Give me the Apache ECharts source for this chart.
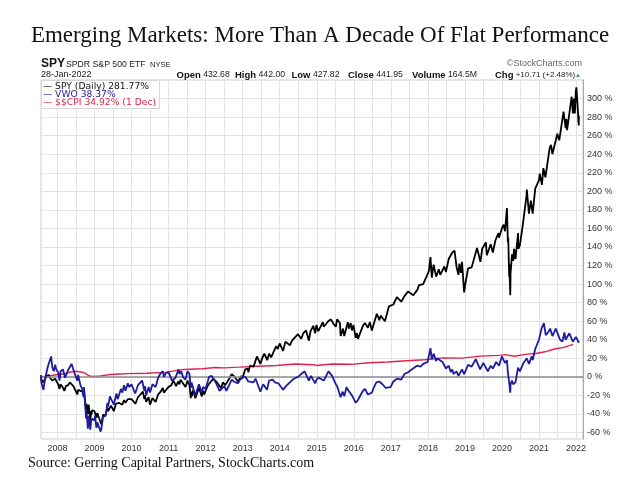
<!DOCTYPE html>
<html><head><meta charset="utf-8">
<script src="https://cdn.jsdelivr.net/npm/echarts@6.0.0/dist/echarts.min.js"></script>
<style>html,body{margin:0;padding:0;background:#fff}#c{width:640px;height:480px}</style>
</head><body><div id="c"></div>
<script>
// ---- data (percent change since start) ----
const xMin = '2007-07-23';
const xMax = '2022-03-10';
const yMinPct = -67, yMaxPct = 320;
const yTickMin = -60, yTickMax = 300, yTickStep = 20;
const yearFirst = 2008, yearLast = 2022;

const spy = [
['2007-07-23',0],['2007-07-26',-3],['2007-08-03',-2],['2007-08-16',-6],['2007-08-28',-3],['2007-09-19',1],['2007-10-09',2],['2007-10-19',-1],['2007-10-31',1],['2007-11-12',-4],['2007-11-26',-6],['2007-12-10',-2],['2007-12-20',-4],
['2008-01-08',-8],['2008-01-22',-13],['2008-02-01',-8],['2008-02-21',-11],['2008-03-10',-15],['2008-03-24',-10],['2008-04-15',-9],['2008-05-02',-6],['2008-05-19',-5],['2008-06-06',-10],['2008-06-20',-12],['2008-07-15',-19],['2008-07-23',-14],['2008-08-11',-13],['2008-09-05',-16],['2008-09-15',-20],['2008-09-19',-15],['2008-09-29',-25],['2008-10-10',-38],['2008-10-13',-29],['2008-10-27',-40],['2008-11-04',-30],['2008-11-20',-47],['2008-11-28',-37],['2008-12-01',-41],['2008-12-08',-36],['2008-12-31',-37],
['2009-01-06',-35],['2009-01-20',-44],['2009-01-28',-39],['2009-02-09',-40],['2009-02-23',-47],['2009-03-09',-51],['2009-03-26',-41],['2009-04-20',-41],['2009-05-08',-33],['2009-05-15',-37],['2009-06-12',-31],['2009-07-10',-37],['2009-07-31',-29],['2009-08-17',-31],['2009-08-28',-28],['2009-10-02',-30],['2009-10-19',-25],['2009-11-02',-28],['2009-11-25',-24],['2009-12-31',-24],
['2010-01-19',-22],['2010-02-08',-29],['2010-03-05',-22],['2010-04-23',-16],['2010-05-07',-24],['2010-05-13',-20],['2010-05-25',-27],['2010-06-18',-22],['2010-07-02',-30],['2010-07-26',-23],['2010-08-09',-21],['2010-08-26',-27],['2010-09-20',-19],['2010-10-15',-16],['2010-11-05',-12],['2010-11-16',-17],['2010-12-31',-11],
['2011-01-28',-9],['2011-02-18',-4],['2011-03-16',-10],['2011-04-05',-5],['2011-04-18',-8],['2011-04-29',-3],['2011-06-16',-11],['2011-07-07',-4],['2011-07-26',-9],['2011-08-08',-23],['2011-08-15',-16],['2011-08-19',-21],['2011-08-31',-14],['2011-09-22',-23],['2011-10-03',-25],['2011-10-27',-12],['2011-11-25',-21],['2011-12-07',-15],['2011-12-19',-19],['2011-12-31',-15],
['2012-01-25',-9],['2012-03-15',-2],['2012-04-02',-1],['2012-04-23',-6],['2012-06-01',-12],['2012-06-19',-6],['2012-07-12',-9],['2012-08-20',-2],['2012-09-14',3],['2012-10-05',1],['2012-11-15',-5],['2012-12-18',1],['2012-12-28',-2],
['2013-01-25',8],['2013-02-20',9],['2013-02-25',5],['2013-03-14',12],['2013-04-18',11],['2013-05-21',22],['2013-06-24',14],['2013-07-15',21],['2013-08-02',25],['2013-08-30',18],['2013-09-18',25],['2013-10-08',21],['2013-11-27',33],['2013-12-12',30],['2013-12-31',36],
['2014-01-15',36],['2014-02-03',28],['2014-02-26',38],['2014-03-07',40],['2014-04-11',34],['2014-05-02',39],['2014-06-30',46],['2014-07-31',41],['2014-08-21',47],['2014-09-18',50],['2014-10-15',39],['2014-10-31',49],['2014-11-28',55],['2014-12-16',47],['2014-12-29',56],
['2015-01-15',49],['2015-03-02',59],['2015-03-11',54],['2015-04-24',60],['2015-05-20',62],['2015-06-16',57],['2015-07-08',54],['2015-07-20',62],['2015-08-17',58],['2015-08-25',44],['2015-09-16',52],['2015-09-29',44],['2015-11-03',59],['2015-11-13',52],['2015-12-01',58],['2015-12-14',50],['2015-12-29',56],
['2016-01-20',42],['2016-02-01',47],['2016-02-11',41],['2016-03-31',55],['2016-04-20',58],['2016-05-19',53],['2016-06-08',59],['2016-06-27',50],['2016-08-15',68],['2016-09-09',61],['2016-09-22',66],['2016-11-03',60],['2016-12-13',76],
['2017-01-25',78],['2017-03-01',86],['2017-04-13',81],['2017-05-15',87],['2017-06-19',92],['2017-08-10',88],['2017-09-20',94],['2017-10-05',99],['2017-11-15',100],['2017-12-18',108],
['2018-01-10',114],['2018-01-26',129],['2018-02-08',107],['2018-02-26',121],['2018-03-09',121],['2018-03-23',108],['2018-04-02',106],['2018-04-18',116],['2018-05-03',110],['2018-06-12',119],['2018-06-27',113],['2018-07-25',127],['2018-08-29',134],['2018-09-20',136],['2018-10-11',118],['2018-10-29',110],['2018-11-07',122],['2018-11-23',112],['2018-12-03',124],['2018-12-24',91],
['2019-01-03',99],['2019-02-01',117],['2019-03-08',118],['2019-04-30',139],['2019-06-03',124],['2019-06-20',138],['2019-07-26',145],['2019-08-05',131],['2019-09-12',143],['2019-10-03',134],['2019-10-28',147],['2019-11-27',155],['2019-12-03',150],['2019-12-31',160],
['2020-01-17',164],['2020-01-31',157],['2020-02-19',182],['2020-02-28',145],['2020-03-03',150],['2020-03-12',108],['2020-03-13',122],['2020-03-23',88],['2020-03-26',112],['2020-04-09',132],['2020-04-21',125],['2020-04-29',138],['2020-05-13',127],['2020-06-08',155],['2020-06-11',138],['2020-06-26',142],['2020-07-22',162],['2020-08-31',196],['2020-09-02',202],['2020-09-23',176],['2020-10-12',190],['2020-10-30',176],['2020-11-24',203],['2020-12-31',212],
['2021-01-08',219],['2021-01-29',207],['2021-02-12',225],['2021-03-04',215],['2021-04-16',247],['2021-04-29',250],['2021-05-12',240],['2021-06-30',262],['2021-07-19',255],['2021-08-30',286],['2021-09-20',268],['2021-09-27',278],['2021-10-04',266],['2021-11-18',302],['2021-12-01',284],['2021-12-10',300],['2021-12-20',284],['2021-12-29',308],
['2022-01-04',312],['2022-01-21',283],['2022-01-24',274],['2022-01-25',278],['2022-01-27',271],['2022-01-28',281.77]
];

const vwo = [
['2007-07-23',2],['2007-07-26',-6],['2007-08-03',-4],['2007-08-16',-14],['2007-08-28',-5],['2007-09-10',2],['2007-09-24',9],['2007-10-01',12],['2007-10-18',10],['2007-10-31',22],['2007-11-12',10],['2007-11-26',6],['2007-12-10',13],['2007-12-20',8],
['2008-01-08',5],['2008-01-22',-4],['2008-02-01',6],['2008-02-25',8],['2008-03-17',-1],['2008-04-10',6],['2008-05-19',14],['2008-06-06',8],['2008-06-27',1],['2008-07-15',-4],['2008-07-23',2],['2008-08-15',-9],['2008-09-05',-14],['2008-09-15',-22],['2008-09-19',-11],['2008-09-29',-28],['2008-10-10',-45],['2008-10-13',-35],['2008-10-27',-56],['2008-11-04',-42],['2008-11-20',-57],['2008-11-28',-48],['2008-12-10',-45],['2008-12-31',-47],
['2009-01-06',-42],['2009-01-20',-55],['2009-01-28',-49],['2009-02-09',-50],['2009-03-02',-59],['2009-03-09',-56],['2009-03-26',-43],['2009-04-20',-42],['2009-05-08',-28],['2009-05-15',-32],['2009-06-01',-21],['2009-06-12',-22],['2009-07-10',-30],['2009-08-05',-18],['2009-08-17',-24],['2009-09-18',-13],['2009-10-02',-17],['2009-10-19',-9],['2009-11-02',-15],['2009-11-25',-7],['2009-12-10',-11],['2009-12-31',-8],
['2010-01-19',-10],['2010-02-05',-18],['2010-03-05',-9],['2010-04-15',-4],['2010-05-07',-15],['2010-05-13',-10],['2010-05-25',-20],['2010-06-18',-11],['2010-07-02',-17],['2010-07-26',-8],['2010-08-09',-6],['2010-08-26',-11],['2010-09-20',-1],['2010-10-15',4],['2010-11-05',6],['2010-11-16',0],['2010-12-06',4],['2010-12-31',5],
['2011-01-14',3],['2011-02-04',-4],['2011-02-23',-6],['2011-03-10',-1],['2011-04-08',8],['2011-04-18',3],['2011-05-05',6],['2011-05-23',0],['2011-06-16',-3],['2011-07-07',6],['2011-07-26',3],['2011-08-08',-12],['2011-08-15',-6],['2011-08-31',-5],['2011-09-22',-20],['2011-10-03',-22],['2011-10-27',-8],['2011-11-25',-17],['2011-12-07',-11],['2011-12-31',-13],
['2012-01-25',-4],['2012-02-03',0],['2012-03-01',1],['2012-04-10',-6],['2012-05-18',-15],['2012-06-04',-17],['2012-07-03',-10],['2012-07-24',-15],['2012-08-20',-9],['2012-09-14',-3],['2012-10-05',-5],['2012-11-15',-7],['2012-12-07',-3],['2012-12-31',0],
['2013-01-03',2],['2013-01-28',0],['2013-02-25',-5],['2013-03-14',-3],['2013-04-18',-6],['2013-05-08',-2],['2013-06-24',-16],['2013-07-22',-8],['2013-08-28',-14],['2013-09-18',-4],['2013-10-22',-3],['2013-11-15',-6],['2013-12-18',-7],['2013-12-31',-5],
['2014-02-03',-14],['2014-03-03',-10],['2014-03-14',-12],['2014-04-29',-4],['2014-05-21',-2],['2014-06-30',0],['2014-07-31',3],['2014-09-03',6],['2014-10-15',-4],['2014-11-05',1],['2014-12-16',-7],['2014-12-29',-3],
['2015-01-20',-1],['2015-03-11',-4],['2015-04-27',6],['2015-06-01',1],['2015-06-15',3],['2015-07-08',-8],['2015-07-24',-11],['2015-08-24',-22],['2015-09-14',-16],['2015-09-29',-21],['2015-10-22',-11],['2015-11-03',-14],['2015-12-14',-20],['2015-12-29',-18],
['2016-01-21',-28],['2016-02-11',-25],['2016-03-31',-15],['2016-04-20',-13],['2016-05-19',-19],['2016-06-27',-17],['2016-07-15',-12],['2016-08-10',-6],['2016-09-08',-5],['2016-10-10',-8],['2016-11-11',-12],['2016-12-28',-11],
['2017-01-25',-5],['2017-03-01',-2],['2017-04-13',-3],['2017-05-15',3],['2017-06-19',5],['2017-07-25',8],['2017-08-10',6],['2017-09-15',12],['2017-10-20',11],['2017-11-15',14],['2017-12-29',16],
['2018-01-26',31],['2018-02-08',19],['2018-02-26',25],['2018-03-09',23],['2018-03-23',17],['2018-04-02',20],['2018-04-18',22],['2018-05-25',16],['2018-06-28',9],['2018-07-25',12],['2018-08-15',5],['2018-08-29',8],['2018-09-11',3],['2018-10-10',6],['2018-10-29',1],['2018-12-03',8],['2018-12-24',3],
['2019-01-03',2],['2019-02-01',13],['2019-03-08',11],['2019-04-17',19],['2019-05-31',8],['2019-07-01',15],['2019-08-15',6],['2019-09-12',12],['2019-10-03',9],['2019-11-05',16],['2019-12-03',12],['2019-12-31',22],
['2020-01-17',24],['2020-01-31',15],['2020-02-19',18],['2020-02-28',5],['2020-03-12',-6],['2020-03-23',-17],['2020-03-26',-8],['2020-04-09',-4],['2020-04-21',-8],['2020-05-13',-6],['2020-06-08',10],['2020-06-26',6],['2020-07-31',15],['2020-09-02',20],['2020-09-23',14],['2020-10-21',22],['2020-10-30',18],['2020-11-24',30],['2020-12-31',40],
['2021-01-25',52],['2021-02-17',58],['2021-03-08',45],['2021-03-31',48],['2021-04-20',52],['2021-05-12',44],['2021-06-15',52],['2021-07-27',40],['2021-08-19',38],['2021-09-07',48],['2021-09-20',40],['2021-10-26',47],['2021-11-30',38],['2021-12-31',43],
['2022-01-12',45],['2022-01-27',37],['2022-01-28',38.37]
];

const cpi = [
['2007-07-23',0],['2007-10-01',1],['2007-12-01',2],['2008-03-01',3],['2008-05-01',5],['2008-07-01',6],
['2008-09-01',5],['2008-10-01',4],['2008-11-01',1.5],['2008-12-01',0.5],['2009-03-01',1],['2009-06-01',2.5],
['2009-09-01',3],['2009-12-01',3.5],['2010-06-01',3.8],['2010-12-01',4.8],['2011-03-01',6.5],['2011-06-01',8],
['2011-12-01',8.8],['2012-04-01',10],['2012-07-01',9.7],['2012-12-01',10.5],['2013-06-01',11.5],['2013-12-01',12.2],
['2014-06-01',13.8],['2014-12-01',13],['2015-01-01',12.3],['2015-06-01',13.8],['2015-12-01',13.5],['2016-06-01',15.2],
['2016-12-01',16],['2017-06-01',17.3],['2017-12-01',18.5],['2018-06-01',20.5],['2018-12-01',20.2],['2019-06-01',22.3],
['2019-12-01',23.2],['2020-02-01',24],['2020-05-01',22.2],['2020-09-01',24.5],['2020-12-01',25.2],['2021-03-01',27],
['2021-06-01',30],['2021-09-01',31.8],['2021-12-01',34.92]
];

// ---- layout ----
const W = 640, H = 480;
const frame = {left: 41, right: 583, top: 80, bottom: 439};
const parseD = s => { const p = s.split('-').map(Number); return new Date(p[0], p[1]-1, p[2]).getTime(); };
const t0 = parseD(xMin), t1 = parseD(xMax);
const xPx = t => frame.left + (t - t0) / (t1 - t0) * (frame.right - frame.left);
const yPx = v => frame.top + (yMaxPct - v) / (yMaxPct - yMinPct) * (frame.bottom - frame.top);
const gC_left = xPx(new Date(yearFirst,0,1).getTime());
const gC_right = W - xPx(new Date(yearLast,0,1).getTime());
const gB_top = yPx(yTickMax), gB_bottom = H - yPx(yTickMin);

const GRID = '#e3e3e3';
const sans = 'Liberation Sans, Arial, sans-serif';
const serif = 'Liberation Serif, Times New Roman, serif';
const rb = {b: {font: 'bold 9.5px ' + sans, fill: '#111'}};

const chart = echarts.init(document.getElementById('c'), null, {renderer: 'canvas'});
chart.setOption({
  animation: false,
  backgroundColor: '#fff',
  grid: [
    {left: frame.left, right: W - frame.right, top: frame.top, bottom: H - frame.bottom, show: true, borderColor: '#cfcfcf', borderWidth: 1, backgroundColor: 'transparent'},
    {left: frame.left, right: W - frame.right, top: gB_top, bottom: gB_bottom},
    {left: gC_left, right: gC_right, top: frame.top, bottom: H - frame.bottom}
  ],
  xAxis: [
    {gridIndex: 0, type: 'time', min: t0, max: t1, show: false},
    {gridIndex: 1, type: 'value', min: 0, max: 1, show: false},
    {gridIndex: 2, type: 'value', min: yearFirst, max: yearLast, interval: 0.5,
     axisLine: {show: false}, axisTick: {show: false},
     splitLine: {show: true, lineStyle: {color: GRID, width: 1}},
     axisLabel: {interval: 0, margin: 5, fontSize: 9, color: '#333', fontFamily: sans,
       formatter: v => (Math.abs(v - Math.round(v)) < 1e-6 ? String(Math.round(v)) : '')}}
  ],
  yAxis: [
    {gridIndex: 0, type: 'value', min: yMinPct, max: yMaxPct, position: 'right',
     axisLine: {show: true, lineStyle: {color: '#9a9a9a', type: 'dotted', width: 1}},
     axisTick: {show: false}, axisLabel: {show: false}, splitLine: {show: false}},
    {gridIndex: 1, type: 'value', min: yTickMin, max: yTickMax, interval: yTickStep, position: 'right',
     axisLine: {show: false}, axisTick: {show: false},
     splitLine: {show: true, lineStyle: {color: GRID, width: 1}},
     axisLabel: {margin: 4, fontSize: 9, color: '#333', fontFamily: sans, formatter: '{value} %'}},
    {gridIndex: 2, type: 'value', min: 0, max: 1, show: false}
  ],
  series: [
    {name: '$$CPI', type: 'line', xAxisIndex: 0, yAxisIndex: 0, data: cpi, showSymbol: false, z: 3,
     lineStyle: {color: '#e3224c', width: 1.4},
     markLine: {silent: true, symbol: 'none', label: {show: false},
       lineStyle: {color: '#8c8c8c', width: 1.5, type: 'solid'}, data: [{yAxis: 0}]}},
    {name: 'SPY', type: 'line', xAxisIndex: 0, yAxisIndex: 0, data: spy, showSymbol: false, z: 4,
     lineStyle: {color: '#000', width: 1.8}},
    {name: 'VWO', type: 'line', xAxisIndex: 0, yAxisIndex: 0, data: vwo, showSymbol: false, z: 5,
     lineStyle: {color: '#1c1c9c', width: 1.8}}
  ],
  graphic: [
    {type: 'text', left: 'center', top: 24, z: 100,
     style: {text: 'Emerging Markets: More Than A Decade Of Flat Performance', font: '23px ' + serif, fill: '#111'}},
    {type: 'text', x: 41, y: 64, z: 100, style: {text: 'SPY', font: 'bold 12px ' + sans, fill: '#111', textVerticalAlign: 'middle'}},
    {type: 'text', x: 66, y: 64.5, z: 100, style: {text: 'SPDR S&P 500 ETF', font: '8.7px ' + sans, fill: '#222', textVerticalAlign: 'middle'}},
    {type: 'text', x: 150, y: 64.5, z: 100, style: {text: 'NYSE', font: '7.5px ' + sans, fill: '#222', textVerticalAlign: 'middle'}},
    {type: 'text', x: 582, y: 64, z: 100, style: {text: '\u00a9StockCharts.com', font: '9px ' + sans, fill: '#666', textAlign: 'right', textVerticalAlign: 'middle'}},
    {type: 'text', x: 41, y: 75, z: 100, style: {text: '28-Jan-2022', font: '9px ' + sans, fill: '#222', textVerticalAlign: 'middle'}},
    {type: 'text', x: 176.5, y: 75, z: 100, style: {text: '{b|Open} 432.68', font: '8.7px ' + sans, fill: '#222', textVerticalAlign: 'middle', rich: rb}},
    {type: 'text', x: 235, y: 75, z: 100, style: {text: '{b|High} 442.00', font: '8.7px ' + sans, fill: '#222', textVerticalAlign: 'middle', rich: rb}},
    {type: 'text', x: 291.5, y: 75, z: 100, style: {text: '{b|Low} 427.82', font: '8.7px ' + sans, fill: '#222', textVerticalAlign: 'middle', rich: rb}},
    {type: 'text', x: 348, y: 75, z: 100, style: {text: '{b|Close} 441.95', font: '8.7px ' + sans, fill: '#222', textVerticalAlign: 'middle', rich: rb}},
    {type: 'text', x: 412, y: 75, z: 100, style: {text: '{b|Volume} 164.5M', font: '8.7px ' + sans, fill: '#222', textVerticalAlign: 'middle', rich: rb}},
    {type: 'text', x: 495, y: 75, z: 100, style: {text: '{b|Chg} +10.71 (+2.48%)', font: '8px ' + sans, fill: '#222', textVerticalAlign: 'middle', rich: rb}},
    {type: 'text', x: 575, y: 75, z: 100, style: {text: '\u25b2', font: '6px ' + sans, fill: '#1a9a3a', textVerticalAlign: 'middle'}},
    {type: 'rect', z: 90, shape: {x: 41.5, y: 80.5, width: 118, height: 28}, style: {fill: '#fff', stroke: '#d6d6d6', lineWidth: 1}},
    {type: 'text', x: 43, y: 86.5, z: 100, style: {text: '\u2014 SPY (Daily) 281.77%', font: '9.2px DejaVu Sans, sans-serif', fill: '#111', textVerticalAlign: 'middle'}},
    {type: 'text', x: 43, y: 94.7, z: 100, style: {text: '\u2014 VWO 38.37%', font: '9.2px DejaVu Sans, sans-serif', fill: '#1c1c9c', textVerticalAlign: 'middle'}},
    {type: 'text', x: 43, y: 103, z: 100, style: {text: '\u2014 $$CPI 34.92% (1 Dec)', font: '9.2px DejaVu Sans, sans-serif', fill: '#e3224c', textVerticalAlign: 'middle'}},
    {type: 'text', x: 28, y: 463, z: 100, style: {text: 'Source: Gerring Capital Partners, StockCharts.com', font: '14px ' + serif, fill: '#111', textVerticalAlign: 'middle'}}
  ]
});
</script></body></html>
